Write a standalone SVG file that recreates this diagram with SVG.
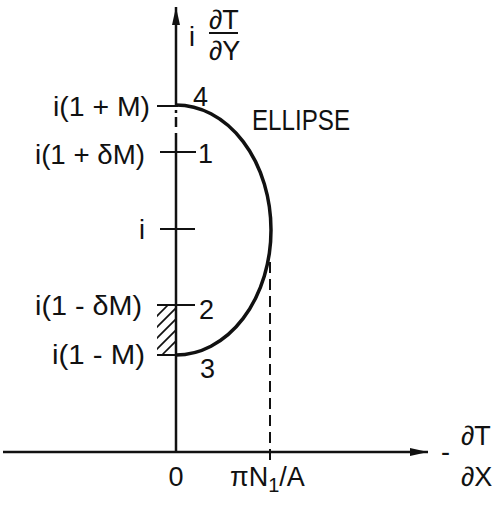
<svg xmlns="http://www.w3.org/2000/svg" width="492" height="505" viewBox="0 0 492 505">
<style>
  text { font-family: "Liberation Sans", Arial, sans-serif; fill: #111; }
  .lbl { font-size: 27px; }
  .num { font-size: 27px; }
  .ax { stroke: #111; stroke-width: 2.5; fill: none; }
  .tick { stroke: #111; stroke-width: 2; fill: none; }
  .hatch { stroke: #111; stroke-width: 1.6; }
</style>
<defs>
  <marker id="arr" viewBox="0 0 18 8" refX="18" refY="4" markerWidth="18" markerHeight="8" markerUnits="userSpaceOnUse" orient="auto">
    <path d="M0,0 L18,4 L0,8 Z" fill="#111"/>
  </marker>
  <clipPath id="hclip"><rect x="157" y="305" width="19" height="50"/></clipPath>
</defs>
<rect width="492" height="505" fill="#fff"/>

<g id="connectors">
  <line class="ax" x1="3" y1="452" x2="428" y2="452" marker-end="url(#arr)"/>
  <line class="ax" x1="176" y1="452" x2="176" y2="133"/>
  <line class="ax" x1="176" y1="127" x2="176" y2="117"/>
  <line class="ax" x1="176" y1="113" x2="176" y2="110"/>
  <line class="ax" x1="176" y1="107" x2="176" y2="7" marker-end="url(#arr)"/>
  <line class="tick" x1="157" y1="106" x2="178" y2="106"/>
  <line class="tick" x1="160" y1="152" x2="196" y2="152"/>
  <line class="tick" x1="160" y1="229" x2="195" y2="229"/>
  <line class="tick" x1="157" y1="305" x2="195" y2="305"/>
  <line class="tick" x1="157" y1="355" x2="178" y2="355"/>
  <line x1="270" y1="262" x2="270" y2="462" stroke="#111" stroke-width="2" stroke-dasharray="11 6"/>
  <g clip-path="url(#hclip)" class="hatch">
    <line x1="155" y1="318" x2="178" y2="295"/>
    <line x1="155" y1="329" x2="178" y2="306"/>
    <line x1="155" y1="340" x2="178" y2="317"/>
    <line x1="155" y1="351" x2="178" y2="328"/>
    <line x1="155" y1="362" x2="178" y2="339"/>
  </g>
</g>

<g id="ellipse">
  <path d="M176,105 A95,125 0 0 1 176,355" fill="none" stroke="#111" stroke-width="3.5"/>
  <text x="252" y="130" font-size="29" textLength="98" lengthAdjust="spacingAndGlyphs">ELLIPSE</text>
</g>

<g id="y-labels">
  <text class="lbl" x="53" y="116" textLength="97" lengthAdjust="spacingAndGlyphs">i(1 + M)</text>
  <text class="lbl" x="35" y="164" textLength="110" lengthAdjust="spacingAndGlyphs">i(1 + δM)</text>
  <text class="lbl" x="139" y="239">i</text>
  <text class="lbl" x="35" y="315" textLength="107" lengthAdjust="spacingAndGlyphs">i(1 - δM)</text>
  <text class="lbl" x="52" y="364" textLength="93" lengthAdjust="spacingAndGlyphs">i(1 - M)</text>
</g>

<g id="points">
  <text class="num" x="193" y="106">4</text>
  <text class="num" x="198" y="163">1</text>
  <text class="num" x="199" y="319">2</text>
  <text class="num" x="200" y="378">3</text>
</g>

<g id="y-axis-label">
  <text class="lbl" x="189" y="46">i</text>
  <text class="lbl" x="209" y="29">∂T</text>
  <line x1="209" y1="33" x2="238" y2="33" stroke="#111" stroke-width="2"/>
  <text class="lbl" x="209" y="60">∂Y</text>
</g>

<g id="x-axis-labels">
  <text class="lbl" x="176" y="486" text-anchor="middle">0</text>
  <text class="lbl" x="230" y="486">πN<tspan font-size="20" dy="6">1</tspan><tspan dy="-6">/A</tspan></text>
  <text class="lbl" x="441" y="461">-</text>
  <text class="lbl" x="461" y="445">∂T</text>
  <text class="lbl" x="461" y="486">∂X</text>
</g>
</svg>
